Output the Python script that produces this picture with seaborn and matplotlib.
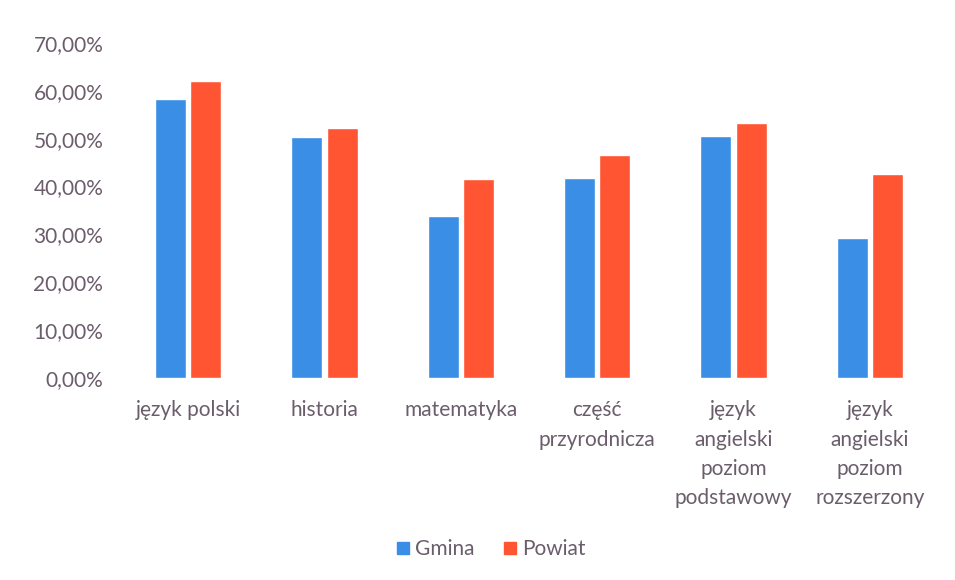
import matplotlib
matplotlib.use("Agg")
import matplotlib.pyplot as plt
import seaborn as sns
import pandas as pd
from matplotlib.ticker import FuncFormatter
from matplotlib.lines import Line2D

categories = ["język polski", "historia", "matematyka", "część\nprzyrodnicza",
              "język\nangielski\npoziom\npodstawowy", "język\nangielski\npoziom\nrozszerzony"]
gmina = [58.4, 50.3, 33.8, 41.7, 50.6, 29.3]
powiat = [62.1, 52.2, 41.5, 46.5, 53.2, 42.6]
series_names = ["Gmina", "Powiat"]
colors = ["#3a8ee6", "#ff5533"]
yticks = [0, 10, 20, 30, 40, 50, 60, 70]

df = pd.DataFrame({
    "cat": categories * 2,
    "val": gmina + powiat,
    "series": [series_names[0]] * len(categories) + [series_names[1]] * len(categories),
})

sns.set_theme(style="white")
plt.rcParams["font.family"] = ["Lato", "DejaVu Sans"]
txt = "#6b5d6b"
fs = 15

fig = plt.figure(figsize=(9.55, 5.8), dpi=100)
ax = fig.add_axes([120 / 955, (580 - 378) / 580, (938 - 120) / 955, (378 - 43) / 580])
sns.barplot(data=df, x="cat", y="val", hue="series", palette=colors,
            width=0.52, gap=0.127, ax=ax, saturation=1, legend=True)
ax.set_ylim(0, 70)
ax.set_yticks(yticks)
ax.yaxis.set_major_formatter(FuncFormatter(lambda v, p: f"{v:.2f}%".replace(".", ",")))
ax.set_xlabel("")
ax.set_ylabel("")
for s in ax.spines.values():
    s.set_visible(False)
ax.tick_params(axis="y", length=0, pad=12, labelsize=fs, labelcolor=txt)
ax.tick_params(axis="x", length=0, pad=16, labelsize=fs, labelcolor=txt)
for lab in ax.get_xticklabels():
    lab.set_linespacing(1.58)
    lab.set_verticalalignment("top")

ax.legend_.remove()
h = [Line2D([], [], marker="s", linestyle="", markersize=9, color=c) for c in colors]
fig.legend(h, series_names, loc="center", bbox_to_anchor=(489 / 955, 1 - 549 / 580),
           ncol=2, frameon=False, fontsize=fs, labelcolor=txt, handletextpad=0.1,
           columnspacing=1.2, handlelength=1.0)

fig.savefig("out.png", dpi=100, facecolor="white")
